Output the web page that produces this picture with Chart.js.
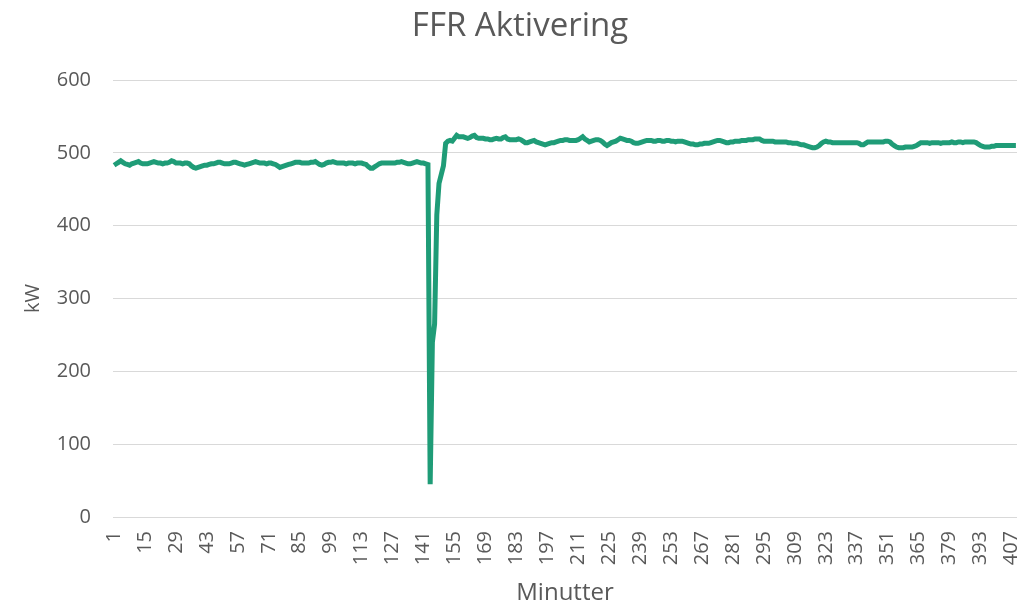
<!DOCTYPE html>
<html>
<head>
<meta charset="utf-8">
<title>FFR Aktivering</title>
<script src="https://cdn.jsdelivr.net/npm/chart.js@4.4.1/dist/chart.umd.min.js"></script>
<style>
  html, body { margin: 0; padding: 0; background: #ffffff; }
  #wrap { width: 1017px; height: 603px; }
</style>
</head>
<body>
<div id="wrap"><canvas id="canvas" width="1017" height="603"></canvas></div>
<script>
// kW per minutt, lest av bildet
var kwBefore = [
    483, 485, 487, 489, 487, 485, 484, 483, 485, 486,
    487, 488, 486, 485, 485, 485, 486, 487, 488, 487,
    486, 486, 485, 486, 486, 487, 489, 488, 486, 486,
    486, 485, 486, 486, 485, 482, 480, 479, 480, 481,
    482, 483, 483, 484, 485, 485, 486, 487, 487, 486,
    485, 485, 485, 486, 487, 487, 486, 485, 484, 483,
    484, 485, 486, 487, 488, 487, 486, 486, 486, 485,
    486, 486, 485, 484, 482, 480, 481, 482, 483, 484,
    485, 486, 487, 487, 487, 486, 486, 486, 486, 487,
    487, 488, 486, 484, 483, 484, 486, 487, 487, 488,
    487, 486, 486, 486, 486, 485, 486, 486, 486, 485,
    486, 486, 486, 485, 484, 481, 479, 479, 481, 483,
    485, 486, 486, 486, 486, 486, 486, 486, 487, 487,
    488, 487, 486, 485, 485, 486, 487, 488, 487, 486,
    486, 485, 484
];
var kwDrop = [45, 240, 265, 415, 458, 470, 482];
var kwAfter = [
    513, 516, 517, 516, 520, 524, 522, 522, 522, 521,
    520, 521, 523, 524, 521, 520, 520, 520, 519, 519,
    518, 518, 519, 520, 519, 519, 521, 522, 519, 518,
    518, 518, 518, 519, 518, 516, 514, 514, 515, 516,
    517, 515, 514, 513, 512, 511, 512, 513, 514, 514,
    515, 516, 517, 517, 518, 518, 517, 517, 517, 517,
    518, 520, 522, 519, 517, 515, 516, 517, 518, 518,
    517, 515, 512, 510, 512, 514, 515, 516, 518, 520,
    519, 518, 517, 517, 516, 514, 513, 513, 514, 515,
    516, 517, 517, 517, 516, 516, 517, 517, 516, 516,
    517, 517, 516, 516, 515, 516, 516, 516, 515, 514,
    513, 512, 512, 511, 511, 512, 512, 513, 513, 513,
    514, 515, 516, 517, 517, 516, 515, 514, 514, 515,
    515, 516, 516, 516, 517, 517, 517, 518, 518, 518,
    519, 519, 519, 517, 516, 516, 516, 516, 516, 515,
    515, 515, 515, 515, 515, 514, 514, 513, 513, 513,
    512, 511, 511, 510, 509, 508, 507, 507, 508, 510,
    513, 515, 516, 515, 515, 514, 514, 514, 514, 514,
    514, 514, 514, 514, 514, 514, 514, 513, 511, 511,
    513, 515, 515, 515, 515, 515, 515, 515, 515, 516,
    516, 515, 512, 510, 508, 507, 507, 507, 508, 508,
    508, 508, 509, 510, 512, 514, 514, 514, 514, 513,
    514, 514, 514, 514, 513, 514, 514, 514, 514, 515,
    514, 514, 515, 515, 514, 515, 515, 515, 515, 515,
    514, 512, 510, 509, 508, 508, 508, 509, 509, 510,
    510, 510, 510, 510, 510, 510, 510, 510, 510
];
var kw = kwBefore.concat(kwDrop, kwAfter);

var minutes = [];
for (var i = 1; i <= kw.length; i++) {
    minutes.push(i);
}
var tickEvery = 14;
var yTicks = [0, 100, 200, 300, 400, 500, 600];
var chartTitle = 'FFR Aktivering';

var textColor = '#595959';
var gridColor = '#d9d9d9';
var fontName = "'Open Sans', sans-serif";

// tittelen står litt til høyre for midten, som i Excel
var titlePlugin = {
    id: 'excelTitle',
    afterDraw: function (chart) {
        var c = chart.ctx;
        c.save();
        c.fillStyle = textColor;
        c.font = '33px ' + fontName;
        c.textAlign = 'center';
        c.textBaseline = 'middle';
        c.fillText(chartTitle, 520, 27);
        c.restore();
    }
};

var ctx = document.getElementById('canvas').getContext('2d');
var myChart = new Chart(ctx, {
    type: 'line',
    data: {
        labels: minutes,
        datasets: [{
            label: 'kW',
            data: kw,
            borderColor: '#1f9c77',
            borderWidth: 5,
            pointRadius: 0,
            tension: 0,
            fill: false
        }]
    },
    plugins: [titlePlugin],
    options: {
        responsive: false,
        animation: false,
        layout: { padding: { top: 80, left: 0, right: 0, bottom: 0 } },
        scales: {
            x: {
                type: 'category',
                offset: true,
                grid: { display: false, drawTicks: false },
                border: { display: false },
                ticks: {
                    autoSkip: false,
                    minRotation: 90,
                    maxRotation: 90,
                    padding: 14,
                    color: textColor,
                    font: { family: fontName, size: 20 },
                    callback: function (value, index) {
                        return index % tickEvery === 0 ? String(minutes[index]) : null;
                    }
                },
                title: {
                    display: true,
                    text: 'Minutter',
                    color: textColor,
                    font: { family: fontName, size: 24, lineHeight: 0.8 },
                    padding: { top: 0, bottom: 0 }
                },
                afterFit: function (scale) {
                    scale.height = 86;
                    // plottet går helt ut til høyre kant
                    scale.paddingLeft = 0;
                    scale.paddingRight = 0;
                }
            },
            y: {
                min: 0,
                max: 600,
                afterBuildTicks: function (scale) {
                    scale.ticks = yTicks.map(function (v) { return { value: v }; });
                },
                grid: { color: gridColor, lineWidth: 1, drawTicks: false },
                border: { display: false },
                ticks: {
                    padding: 22,
                    color: textColor,
                    font: { family: fontName, size: 20 }
                },
                title: {
                    display: true,
                    text: 'kW',
                    color: textColor,
                    font: { family: fontName, size: 20 },
                    padding: { top: 21, bottom: 0 }
                },
                afterFit: function (scale) {
                    scale.width = 113;
                    scale.paddingTop = 0;
                    scale.paddingBottom = 0;
                }
            }
        },
        plugins: {
            legend: { display: false },
            tooltip: { enabled: false },
            title: { display: false }
        }
    }
});
</script>
</body>
</html>
